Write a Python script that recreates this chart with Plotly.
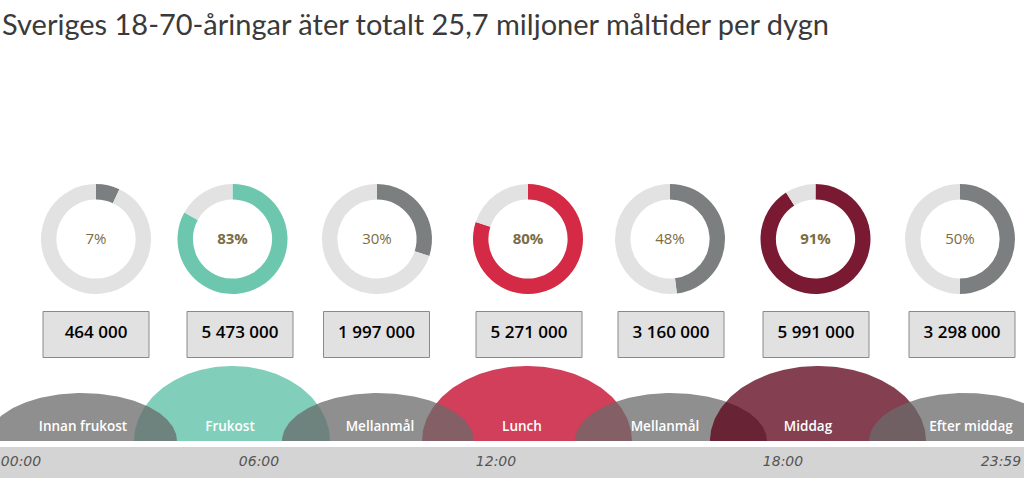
import numpy as np
import plotly.graph_objects as go

# ---------------- data ----------------
meals = ["Innan frukost", "Frukost", "Mellanmål", "Lunch", "Mellanmål", "Middag", "Efter middag"]
share_pct = [7, 83, 30, 80, 48, 91, 50]
meal_count = [464000, 5473000, 1997000, 5271000, 3160000, 5991000, 3298000]
time_labels = ["00:00", "06:00", "12:00", "18:00", "23:59"]
title_text = "Sveriges 18-70-åringar äter totalt 25,7 miljoner måltider per dygn"

# ---------------- layout / style ----------------
W, H = 1024, 483
donut_cx = [96, 232.5, 377, 528, 670, 815.5, 960]
donut_cy = 244            # pixels from bottom
donut_r = 55
box_cx = [96, 240, 376.5, 529, 671, 816, 962]
box_w, box_h, box_cy = 106, 46, 148.5
arc_cx = [82, 232, 378, 527, 671, 818, 965]
arc_hw = [95, 98, 96, 105, 96, 108, 96]
arc_h = [48, 75, 48, 75, 48, 75, 48]
arc_base = 42
arc_label_x = [83, 230, 380, 522, 665, 808, 971]
arc_label_y = 55
arc_order = [1, 3, 0, 2, 4, 5, 6]
tick_x = [21, 259, 496, 783, 1001]
band_y0, band_y1 = 5, 36

accent = ["#7c7f80", "#6cc7ae", "#7c7f80", "#d42a45", "#7c7f80", "#7a1a32", "#7c7f80"]
arc_color = ["#6a6a6a", "#58c0a4", "#6a6a6a", "#c40023", "#6a6a6a", "#5b0018", "#6a6a6a"]
bold = [False, True, False, True, False, True, False]
rest_color = "#e2e2e2"
pct_color = "#7a6d45"

fig = go.Figure()

# semicircles at the bottom
t = np.linspace(0, np.pi, 120)
for i in arc_order:
    xs = arc_cx[i] + arc_hw[i] * np.cos(t)
    ys = arc_base + arc_h[i] * np.sin(t)
    fig.add_trace(go.Scatter(
        x=list(xs) + [xs[0]], y=list(ys) + [ys[0]], mode="lines", fill="toself",
        fillcolor=arc_color[i], opacity=0.75, line=dict(width=0),
        hoverinfo="skip", showlegend=False))

# meal labels on the arcs
fig.add_trace(go.Scatter(
    x=arc_label_x, y=[arc_label_y] * len(meals), mode="text", text=meals,
    textfont=dict(family="Open Sans", size=13.5, color="white", weight=600),
    hoverinfo="skip", showlegend=False))

# time band
fig.add_shape(type="rect", x0=0, x1=W, y0=band_y0, y1=band_y1,
              fillcolor="#d4d4d4", line=dict(width=0), layer="below")
fig.add_trace(go.Scatter(
    x=tick_x, y=[(band_y0 + band_y1) / 2] * len(time_labels), mode="text", text=time_labels,
    textfont=dict(family="DejaVu Sans", size=14, color="#555555", style="italic"),
    hoverinfo="skip", showlegend=False, cliponaxis=False))

# boxes with counts
for cx in box_cx:
    fig.add_shape(type="rect", x0=cx - box_w / 2, x1=cx + box_w / 2,
                  y0=box_cy - box_h / 2, y1=box_cy + box_h / 2, layer="below",
                  fillcolor="#e1e1e1", line=dict(color="#8a8a8a", width=1))
count_text = [f"{v:,}".replace(",", " ") for v in meal_count]
fig.add_trace(go.Scatter(
    x=box_cx, y=[box_cy + 1] * len(box_cx), mode="text", text=count_text,
    textfont=dict(family="Open Sans", size=17, color="#000000", weight=600),
    hoverinfo="skip", showlegend=False))

# donuts
for i, p in enumerate(share_pct):
    cx = donut_cx[i]
    fig.add_trace(go.Pie(
        values=[p, 100 - p], sort=False, direction="clockwise", rotation=0,
        hole=0.72, textinfo="none", hoverinfo="skip", showlegend=False,
        marker=dict(colors=[accent[i], rest_color], line=dict(color="white", width=0)),
        domain=dict(x=[(cx - donut_r) / W, (cx + donut_r) / W],
                    y=[(donut_cy - donut_r) / H, (donut_cy + donut_r) / H]),
        title=dict(text=f"<b>{p}%</b>" if bold[i] else f"{p}%", position="middle center",
                   font=dict(family="Open Sans", size=15, color=pct_color))))

fig.add_annotation(x=0, y=1, xref="paper", yref="paper", xanchor="left", yanchor="top",
                   yshift=-4, text=title_text, showarrow=False,
                   font=dict(family="Lato", size=29, color="#3a3a3a"))

fig.update_layout(
    width=W, height=H, margin=dict(l=0, r=0, t=0, b=0),
    paper_bgcolor="white", plot_bgcolor="white", showlegend=False,
    xaxis=dict(range=[0, W], visible=False, fixedrange=True),
    yaxis=dict(range=[0, H], visible=False, fixedrange=True),
)
fig.write_html("out.html")
